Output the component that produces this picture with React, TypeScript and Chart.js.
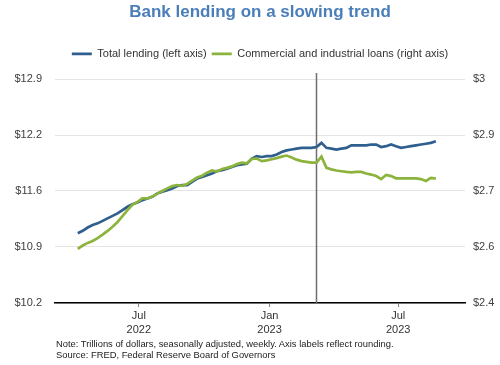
import React, { useEffect, useRef } from "react";
import { Chart, registerables, layouts } from "chart.js";
Chart.register(...registerables);

// ---- data (trillions of dollars, weekly) ----
const firstWeek = "2022-04-06";
const totalLending = [
  11.04, 11.07, 11.11, 11.14, 11.16, 11.19, 11.22, 11.25, 11.28, 11.32,
  11.36, 11.39, 11.41, 11.44, 11.46, 11.48, 11.52, 11.54, 11.56, 11.58,
  11.61, 11.62, 11.62, 11.66, 11.70, 11.72, 11.74, 11.76, 11.79, 11.80,
  11.82, 11.84, 11.86, 11.87, 11.88, 11.94, 11.97, 11.96, 11.97, 11.97,
  11.99, 12.02, 12.04, 12.05, 12.06, 12.07, 12.07, 12.07, 12.08, 12.13,
  12.07, 12.06, 12.05, 12.06, 12.07, 12.10, 12.10, 12.10, 12.10, 12.11,
  12.11, 12.08, 12.09, 12.11, 12.09, 12.07, 12.08, 12.09, 12.10, 12.11,
  12.12, 12.13, 12.15,
];
const ciLoans = [
  2.545, 2.554, 2.561, 2.566, 2.574, 2.583, 2.593, 2.604, 2.617, 2.633,
  2.649, 2.663, 2.671, 2.68, 2.68, 2.685, 2.693, 2.7, 2.707, 2.713,
  2.716, 2.714, 2.719, 2.728, 2.736, 2.741, 2.749, 2.755, 2.752, 2.759,
  2.762, 2.766, 2.772, 2.776, 2.774, 2.786, 2.787, 2.78, 2.782, 2.785,
  2.788, 2.792, 2.795, 2.79, 2.784, 2.78, 2.778, 2.776, 2.776, 2.792,
  2.762, 2.758, 2.755, 2.753, 2.751, 2.75, 2.751, 2.751, 2.747, 2.744,
  2.74, 2.732, 2.743, 2.74, 2.734, 2.734, 2.734, 2.734, 2.734, 2.732,
  2.727, 2.735, 2.733,
];
const seriesNames = ["Total lending (left axis)", "Commercial and industrial loans (right axis)"];
const leftTicks = [10.2, 10.875, 11.55, 12.225, 12.9];
const leftTickLabels = ["$10.2", "$10.9", "$11.6", "$12.2", "$12.9"];
const rightTicks = [2.4, 2.55, 2.7, 2.85, 3.0];
const rightTickLabels = ["$2.4", "$2.6", "$2.7", "$2.9", "$3"];
const xTickDates = ["2022-07-01", "2023-01-01", "2023-07-01"];
const xTickLabels = [["Jul", "2022"], ["Jan", "2023"], ["Jul", "2023"]];
const xRange = ["2022-03-05", "2023-10-03"];
const markerDate = "2023-03-08";
const titleText = "Bank lending on a slowing trend";
const noteLines = [
  "Note: Trillions of dollars, seasonally adjusted, weekly. Axis labels reflect rounding.",
  "Source: FRED, Federal Reserve Board of Governors",
];

const DAY = 86400000;
const dayNum = (s: string) => Date.parse(s + "T00:00:00Z") / DAY;
const weeks = totalLending.map((_, i) => dayNum(firstWeek) + 7 * i);

const BLUE = "#2f5f8e";
const GREEN = "#8cb43c";
const FONT = "'Liberation Sans', Arial, sans-serif";
const SPACER = 9.6;

const markerPlugin = {
  id: "marker",
  beforeDatasetsDraw(chart: any) {
    const { ctx, chartArea, scales } = chart;
    const x = scales.x.getPixelForValue(dayNum(markerDate));
    ctx.save();
    ctx.strokeStyle = "#6e6e6e";
    ctx.lineWidth = 1.5;
    ctx.beginPath();
    ctx.moveTo(x, chartArea.top - 6);
    ctx.lineTo(x, chartArea.bottom);
    ctx.stroke();
    ctx.restore();
  },
};

// empty layout box between the legend and the plot area
const spacerPlugin = {
  id: "legendSpacer",
  start(chart: any) {
    const box: any = {
      position: "top",
      weight: 1,
      fullSize: false,
      left: 0, top: 0, right: 0, bottom: 0, width: 0, height: 0,
      options: {},
      update(maxWidth: number) {
        this.width = maxWidth;
        this.height = SPACER;
        return this.height;
      },
      isHorizontal() {
        return true;
      },
      draw() {},
    };
    layouts.addBox(chart, box);
  },
};

export default function App() {
  const ref = useRef<HTMLCanvasElement | null>(null);
  useEffect(() => {
    if (!ref.current) return;
    const chart = new Chart(ref.current, {
      type: "line",
      data: {
        datasets: [
          {
            label: seriesNames[0],
            data: weeks.map((d, i) => ({ x: d, y: totalLending[i] })),
            borderColor: BLUE,
            backgroundColor: BLUE,
            borderWidth: 2.7,
            pointRadius: 0,
            yAxisID: "y",
            order: 1,
          },
          {
            label: seriesNames[1],
            data: weeks.map((d, i) => ({ x: d, y: ciLoans[i] })),
            borderColor: GREEN,
            backgroundColor: GREEN,
            borderWidth: 2.7,
            pointRadius: 0,
            yAxisID: "y1",
            order: 0,
          },
        ],
      },
      options: {
        responsive: false,
        animation: false,
        layout: { padding: { top: 0, bottom: 30, left: 0, right: 0 } },
        plugins: {
          tooltip: { enabled: false },
          title: {
            display: true,
            text: titleText,
            color: "#4a7ebb",
            fullSize: false,
            font: { family: FONT, size: 17, weight: "bold" },
            padding: { top: 2.5, bottom: 20.5 },
          },
          legend: {
            display: true,
            position: "top",
            fullSize: false,
            labels: {
              color: "#333333",
              font: { family: FONT, size: 11 },
              usePointStyle: true,
              pointStyle: "line",
              pointStyleWidth: 20,
              padding: 5,
              sort: (a: any, b: any) => a.datasetIndex - b.datasetIndex,
            },
          },
        },
        scales: {
          x: {
            type: "linear",
            min: dayNum(xRange[0]),
            max: dayNum(xRange[1]),
            afterBuildTicks: (scale: any) => {
              scale.ticks = xTickDates.map((d) => ({ value: dayNum(d) }));
            },
            afterFit: (scale: any) => {
              scale.height = 32;
            },
            ticks: {
              autoSkip: false,
              maxRotation: 0,
              color: "#333333",
              font: { family: FONT, size: 11, lineHeight: 1.25 },
              padding: 2,
              callback: (_v: any, i: number) => xTickLabels[i],
            },
            grid: { display: true, drawOnChartArea: false, drawTicks: true, tickLength: 4, color: "#8a8a8a" },
            border: { display: true, color: "#000000", width: 1.5 },
          },
          y: {
            position: "left",
            min: leftTicks[0],
            max: leftTicks[leftTicks.length - 1],
            afterBuildTicks: (scale: any) => {
              scale.ticks = leftTicks.map((v) => ({ value: v }));
            },
            afterFit: (scale: any) => {
              scale.width = 55;
            },
            ticks: {
              color: "#404040",
              font: { family: FONT, size: 11 },
              padding: 13,
              callback: (_v: any, i: number) => leftTickLabels[i],
            },
            grid: { color: "#e4e4e4", lineWidth: 1, drawTicks: false },
            border: { display: false },
          },
          y1: {
            position: "right",
            min: rightTicks[0],
            max: rightTicks[rightTicks.length - 1],
            afterBuildTicks: (scale: any) => {
              scale.ticks = rightTicks.map((v) => ({ value: v }));
            },
            afterFit: (scale: any) => {
              scale.width = 35;
            },
            ticks: {
              color: "#404040",
              font: { family: FONT, size: 11 },
              padding: 8,
              callback: (_v: any, i: number) => rightTickLabels[i],
            },
            grid: { display: false, drawTicks: false },
            border: { display: false },
          },
        },
      },
      plugins: [spacerPlugin, markerPlugin],
    } as any);
    return () => chart.destroy();
  }, []);

  return (
    <div style={{ position: "absolute", left: 0, top: 0, width: 500, height: 365, background: "#fff" }}>
      <canvas ref={ref} width={500} height={365} style={{ display: "block", width: 500, height: 365 }} />
      <div
        style={{
          position: "absolute",
          left: 56,
          top: 338,
          fontFamily: FONT,
          fontSize: 9.4,
          lineHeight: "11px",
          color: "#222222",
          whiteSpace: "nowrap",
        }}
      >
        {noteLines.map((t) => (
          <div key={t}>{t}</div>
        ))}
      </div>
    </div>
  );
}
